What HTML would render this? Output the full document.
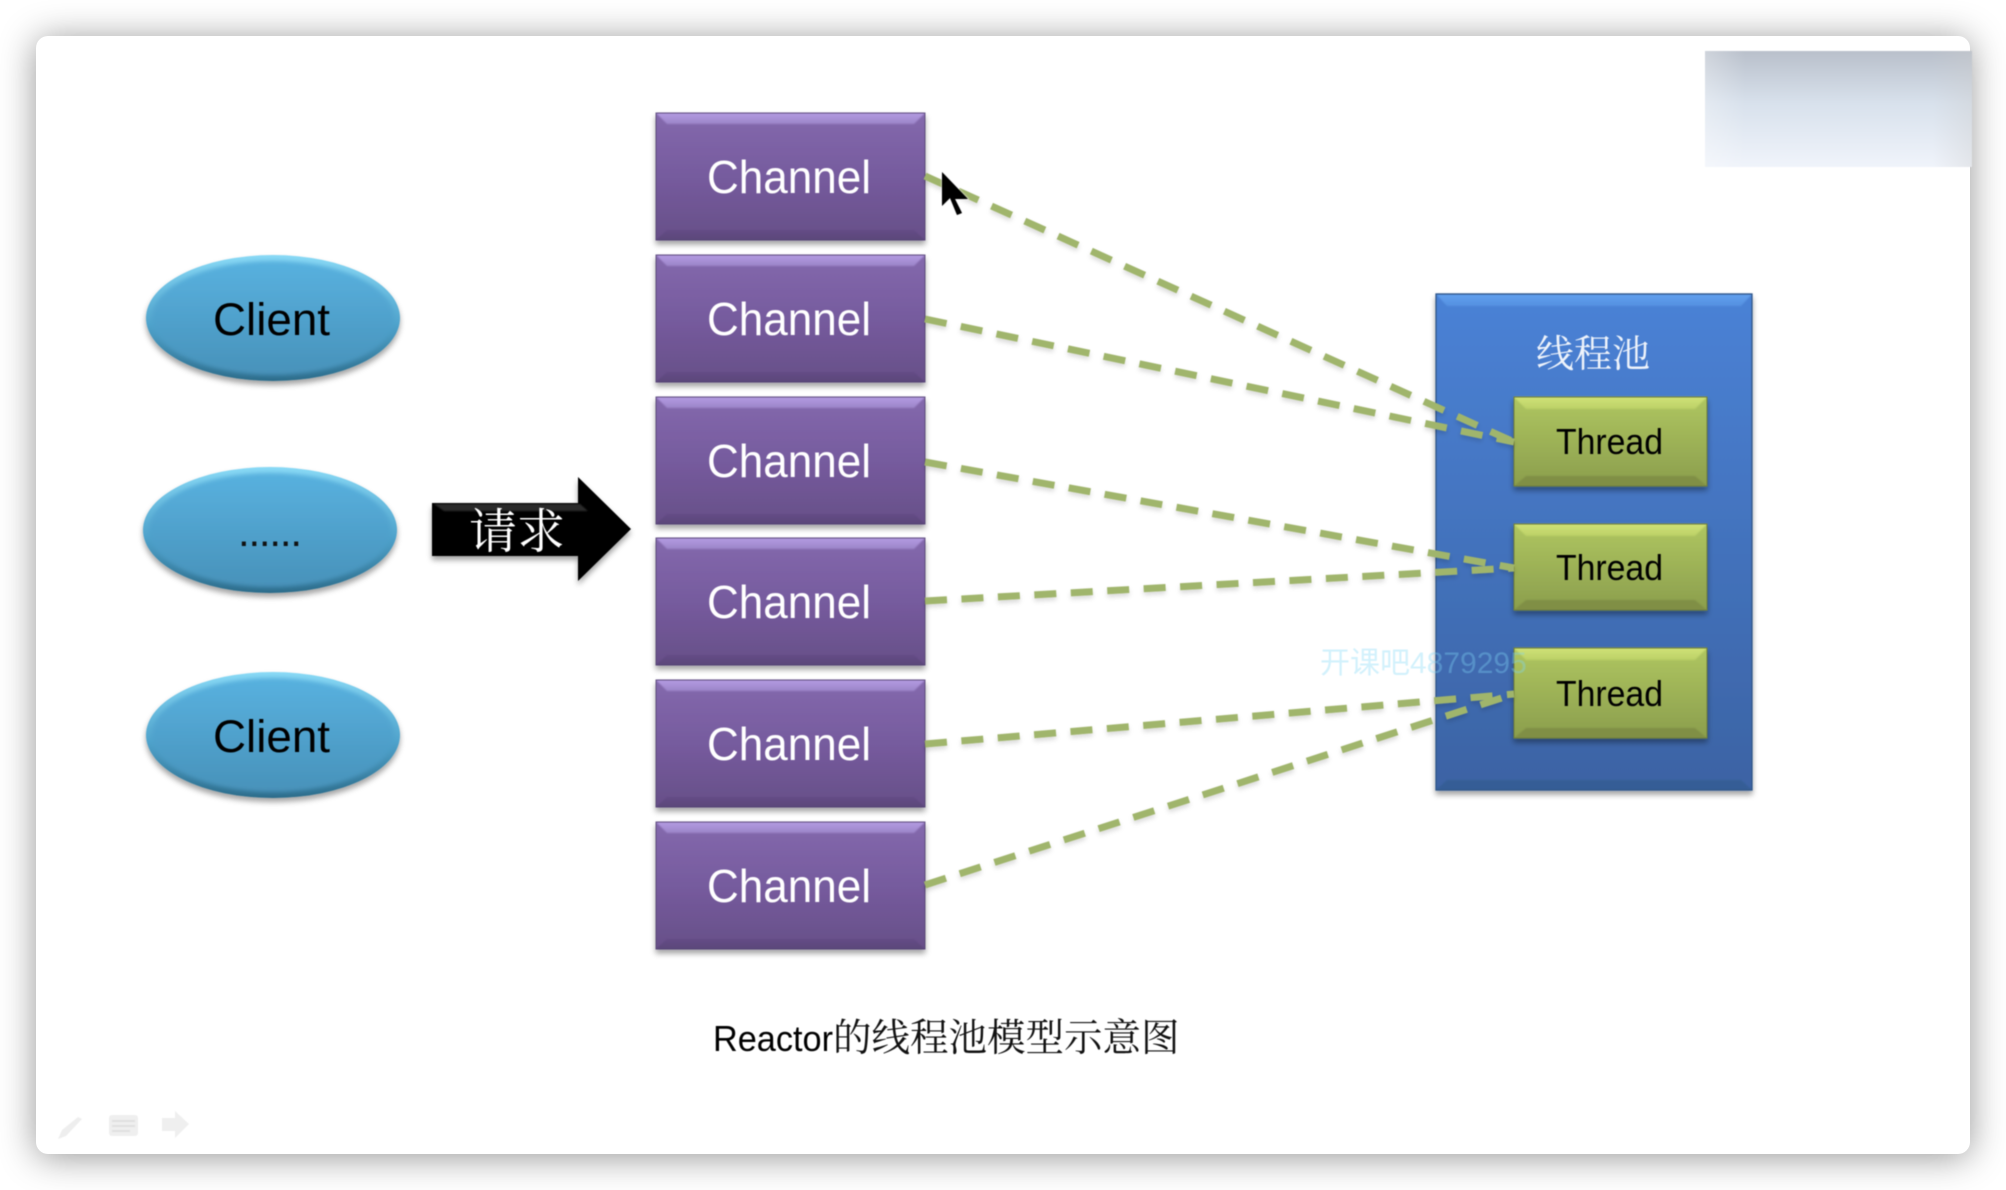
<!DOCTYPE html>
<html lang="zh"><head><meta charset="utf-8"><title>Reactor的线程池模型示意图</title>
<style>
html,body{margin:0;padding:0;width:2006px;height:1190px;background:#fff;overflow:hidden}
#card{position:absolute;left:36px;top:36px;width:1934px;height:1118px;background:#fff;border-radius:12px;box-shadow:0 3px 36px rgba(0,0,0,.42)}
svg{position:absolute;left:0;top:0;filter:blur(.5px)}
.lat{font-family:"Liberation Sans",sans-serif}
.cjk{font-family:"Liberation Serif","Noto Serif CJK SC",serif}
</style></head><body>
<div id="card"></div>
<svg width="2006" height="1190" viewBox="0 0 2006 1190" xmlns="http://www.w3.org/2000/svg">
<defs>
<linearGradient id="pm" x1="0" y1="0" x2="0" y2="1"><stop offset="0" stop-color="#8469ad"/><stop offset=".5" stop-color="#765b9e"/><stop offset="1" stop-color="#674f88"/></linearGradient>
<linearGradient id="pt" x1="0" y1="0" x2="0" y2="1"><stop offset="0" stop-color="#b49be2"/><stop offset="1" stop-color="#9b84c8"/></linearGradient>
<linearGradient id="pb" x1="0" y1="0" x2="0" y2="1"><stop offset="0" stop-color="#644c86"/><stop offset="1" stop-color="#5a4679"/></linearGradient>
<linearGradient id="em" x1="0" y1="0" x2="0" y2="1"><stop offset="0" stop-color="#58b1df"/><stop offset="1" stop-color="#4892ba"/></linearGradient>
<linearGradient id="eo" x1="0" y1="0" x2="0" y2="1"><stop offset="0" stop-color="#8adaf6"/><stop offset=".55" stop-color="#4fa3cc"/><stop offset="1" stop-color="#2c6c8b"/></linearGradient>
<linearGradient id="bm" x1="0" y1="0" x2="0" y2="1"><stop offset="0" stop-color="#4a82d6"/><stop offset="1" stop-color="#3c63a4"/></linearGradient>
<linearGradient id="bt" x1="0" y1="0" x2="0" y2="1"><stop offset="0" stop-color="#62a0ee"/><stop offset="1" stop-color="#5490e0"/></linearGradient>
<linearGradient id="tm" x1="0" y1="0" x2="0" y2="1"><stop offset="0" stop-color="#afc660"/><stop offset="1" stop-color="#8b9e4d"/></linearGradient>
<linearGradient id="tt" x1="0" y1="0" x2="0" y2="1"><stop offset="0" stop-color="#d0e276"/><stop offset="1" stop-color="#bbd067"/></linearGradient>
<linearGradient id="gv" x1="0" y1="0" x2="0" y2="1"><stop offset="0" stop-color="#b9c0cb"/><stop offset=".45" stop-color="#d8e1ec"/><stop offset="1" stop-color="#f0f4fb"/></linearGradient>
<linearGradient id="gh" x1="0" y1="0" x2="1" y2="0"><stop offset="0" stop-color="#fff" stop-opacity=".3"/><stop offset=".15" stop-color="#fff" stop-opacity="0"/><stop offset=".85" stop-color="#ccc" stop-opacity="0"/><stop offset="1" stop-color="#ccc" stop-opacity=".35"/></linearGradient>
<filter id="sh" x="-10%" y="-10%" width="120%" height="125%"><feDropShadow dx="0" dy="4" stdDeviation="3" flood-color="#000" flood-opacity=".36"/></filter>
<filter id="ls" x="-5%" y="-5%" width="110%" height="110%"><feDropShadow dx="0" dy="3" stdDeviation="2.5" flood-color="#000" flood-opacity=".14"/></filter>
<filter id="b3" x="-10%" y="-10%" width="120%" height="120%"><feGaussianBlur stdDeviation="2"/></filter>
<filter id="b1" x="-10%" y="-30%" width="120%" height="160%"><feGaussianBlur stdDeviation=".9"/></filter>
</defs>

<!-- top-right overlay -->
<rect x="1705" y="51" width="267" height="116" fill="url(#gv)"/>
<rect x="1705" y="51" width="267" height="116" fill="url(#gh)"/>

<!-- clients -->
<g filter="url(#sh)"><ellipse cx="273" cy="318" rx="127" ry="63" fill="url(#eo)"/><ellipse cx="273" cy="318" rx="121" ry="57" fill="url(#em)" filter="url(#b3)"/></g>
<text class="lat" x="213" y="335" font-size="45" textLength="117" lengthAdjust="spacingAndGlyphs" fill="#000">Client</text>
<g filter="url(#sh)"><ellipse cx="270" cy="530" rx="127" ry="63" fill="url(#eo)"/><ellipse cx="270" cy="530" rx="121" ry="57" fill="url(#em)" filter="url(#b3)"/></g>
<text class="lat" x="238" y="546" font-size="42" textLength="64" lengthAdjust="spacing" fill="#111">......</text>
<g filter="url(#sh)"><ellipse cx="273" cy="735" rx="127" ry="63" fill="url(#eo)"/><ellipse cx="273" cy="735" rx="121" ry="57" fill="url(#em)" filter="url(#b3)"/></g>
<text class="lat" x="213" y="752" font-size="45" textLength="117" lengthAdjust="spacingAndGlyphs" fill="#000">Client</text>

<!-- request arrow -->
<g filter="url(#sh)"><polygon points="432,503 578,503 578,477 631,529 578,581 578,556 432,556" fill="#000"/>
<polygon points="434,504 580,504 588,511 444,511" fill="#2a2a2a" filter="url(#b1)"/></g>
<text class="cjk" x="469" y="548" font-size="48" fill="#fff">请求</text>

<!-- thread pool container -->
<g filter="url(#sh)">
<rect x="1436" y="294" width="316" height="496" fill="url(#bm)"/>
<polygon points="1436,294 1752,294 1741,306 1447,306" fill="url(#bt)" filter="url(#b1)"/>
<polygon points="1447,780 1741,780 1752,790 1436,790" fill="#345d96" filter="url(#b1)"/>
<rect x="1436" y="294" width="316" height="496" fill="none" stroke="#2f5488" stroke-width="1.3"/>
</g>
<text class="cjk" x="1536" y="367" font-size="38" fill="#eef3fb">线程池</text>

<!-- threads -->
<g filter="url(#sh)" transform="translate(1514,397)">
<rect width="193" height="89" fill="url(#tm)"/><polygon points="0,0 193,0 181,12 12,12" fill="url(#tt)" filter="url(#b1)"/><polygon points="12,79 181,79 193,89 0,89" fill="#808f45" filter="url(#b1)"/><rect width="193" height="89" fill="none" stroke="#6f7e3b" stroke-width="1"/></g>
<g filter="url(#sh)" transform="translate(1514,524)">
<rect width="193" height="86" fill="url(#tm)"/><polygon points="0,0 193,0 181,12 12,12" fill="url(#tt)" filter="url(#b1)"/><polygon points="12,76 181,76 193,86 0,86" fill="#808f45" filter="url(#b1)"/><rect width="193" height="86" fill="none" stroke="#6f7e3b" stroke-width="1"/></g>
<g filter="url(#sh)" transform="translate(1514,648)">
<rect width="193" height="90" fill="url(#tm)"/><polygon points="0,0 193,0 181,12 12,12" fill="url(#tt)" filter="url(#b1)"/><polygon points="12,80 181,80 193,90 0,90" fill="#808f45" filter="url(#b1)"/><rect width="193" height="90" fill="none" stroke="#6f7e3b" stroke-width="1"/></g>
<text class="lat" x="1556" y="454" font-size="36" textLength="107" lengthAdjust="spacingAndGlyphs" fill="#000">Thread</text>
<text class="lat" x="1556" y="580" font-size="36" textLength="107" lengthAdjust="spacingAndGlyphs" fill="#000">Thread</text>
<text class="lat" x="1556" y="706" font-size="36" textLength="107" lengthAdjust="spacingAndGlyphs" fill="#000">Thread</text>

<!-- channels -->
<g filter="url(#sh)" transform="translate(656,113)"><rect width="269" height="127" fill="url(#pm)"/><polygon points="0,0 269,0 258,11 11,11" fill="url(#pt)" filter="url(#b1)"/><polygon points="11,117 258,117 269,127 0,127" fill="url(#pb)" filter="url(#b1)"/><rect width="269" height="127" fill="none" stroke="#4c3b6c" stroke-width="1" stroke-opacity=".8"/></g>
<g filter="url(#sh)" transform="translate(656,255)"><rect width="269" height="127" fill="url(#pm)"/><polygon points="0,0 269,0 258,11 11,11" fill="url(#pt)" filter="url(#b1)"/><polygon points="11,117 258,117 269,127 0,127" fill="url(#pb)" filter="url(#b1)"/><rect width="269" height="127" fill="none" stroke="#4c3b6c" stroke-width="1" stroke-opacity=".8"/></g>
<g filter="url(#sh)" transform="translate(656,397)"><rect width="269" height="127" fill="url(#pm)"/><polygon points="0,0 269,0 258,11 11,11" fill="url(#pt)" filter="url(#b1)"/><polygon points="11,117 258,117 269,127 0,127" fill="url(#pb)" filter="url(#b1)"/><rect width="269" height="127" fill="none" stroke="#4c3b6c" stroke-width="1" stroke-opacity=".8"/></g>
<g filter="url(#sh)" transform="translate(656,538)"><rect width="269" height="127" fill="url(#pm)"/><polygon points="0,0 269,0 258,11 11,11" fill="url(#pt)" filter="url(#b1)"/><polygon points="11,117 258,117 269,127 0,127" fill="url(#pb)" filter="url(#b1)"/><rect width="269" height="127" fill="none" stroke="#4c3b6c" stroke-width="1" stroke-opacity=".8"/></g>
<g filter="url(#sh)" transform="translate(656,680)"><rect width="269" height="127" fill="url(#pm)"/><polygon points="0,0 269,0 258,11 11,11" fill="url(#pt)" filter="url(#b1)"/><polygon points="11,117 258,117 269,127 0,127" fill="url(#pb)" filter="url(#b1)"/><rect width="269" height="127" fill="none" stroke="#4c3b6c" stroke-width="1" stroke-opacity=".8"/></g>
<g filter="url(#sh)" transform="translate(656,822)"><rect width="269" height="127" fill="url(#pm)"/><polygon points="0,0 269,0 258,11 11,11" fill="url(#pt)" filter="url(#b1)"/><polygon points="11,117 258,117 269,127 0,127" fill="url(#pb)" filter="url(#b1)"/><rect width="269" height="127" fill="none" stroke="#4c3b6c" stroke-width="1" stroke-opacity=".8"/></g>
<g class="lat" font-size="46" fill="#fff">
<text x="707" y="193" textLength="164" lengthAdjust="spacingAndGlyphs">Channel</text>
<text x="707" y="335" textLength="164" lengthAdjust="spacingAndGlyphs">Channel</text>
<text x="707" y="477" textLength="164" lengthAdjust="spacingAndGlyphs">Channel</text>
<text x="707" y="618" textLength="164" lengthAdjust="spacingAndGlyphs">Channel</text>
<text x="707" y="760" textLength="164" lengthAdjust="spacingAndGlyphs">Channel</text>
<text x="707" y="902" textLength="164" lengthAdjust="spacingAndGlyphs">Channel</text>
</g>

<!-- dashed connectors -->
<g stroke="#a0b56c" stroke-width="7" stroke-dasharray="22 14.5" fill="none" filter="url(#ls)">
<line x1="925" y1="176" x2="1514" y2="442"/>
<line x1="925" y1="319" x2="1514" y2="442"/>
<line x1="925" y1="462" x2="1514" y2="568"/>
<line x1="925" y1="601" x2="1514" y2="568"/>
<line x1="925" y1="744" x2="1514" y2="694"/>
<line x1="925" y1="885" x2="1514" y2="694"/>
</g>

<!-- cursor -->
<polygon points="942,172 942,206 950,198 957,215 962,213 955,199 968,199" fill="#000" stroke="#fff" stroke-width="1" filter="url(#b1)" opacity=".98"/>
<polygon points="942,172 942,206 950,198 957,215 962,213 955,199 968,199" fill="#000"/>

<!-- caption -->
<text class="lat" x="713" y="1051" font-size="36" textLength="120" lengthAdjust="spacingAndGlyphs" fill="#000">Reactor</text>
<text class="cjk" x="833" y="1051" font-size="38.5" fill="#111">的线程池模型示意图</text>

<!-- watermark -->
<text x="1320" y="673" font-family="'Liberation Sans','Noto Sans CJK SC',sans-serif" font-size="30" fill="#7fd6f5" opacity=".35">开课吧4879295</text>

<!-- toolbar icons -->
<polygon points="58,1139 62,1130 78,1117 82,1119 66,1136" fill="#eeeeee"/>
<rect x="109" y="1115" width="29" height="21" rx="3" fill="#efefef"/>
<g stroke="#e0e0e0" stroke-width="2"><line x1="112" y1="1121" x2="135" y2="1121"/><line x1="112" y1="1126" x2="135" y2="1126"/><line x1="112" y1="1131" x2="130" y2="1131"/></g>
<polygon points="162,1118 175,1118 175,1111 189,1124 175,1138 175,1131 162,1131" fill="#efefef"/>
</svg>
</body></html>
